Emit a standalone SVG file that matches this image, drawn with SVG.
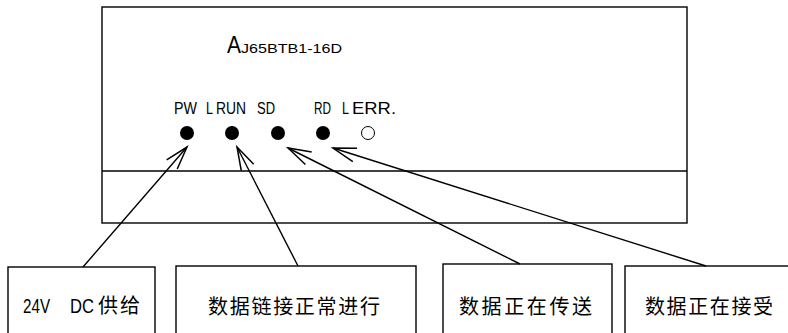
<svg xmlns="http://www.w3.org/2000/svg" width="788" height="333" viewBox="0 0 788 333">
<style>
.box{fill:none;stroke:#000;stroke-width:1.4}
.lbl{font-family:"Liberation Sans",Arial,sans-serif;font-size:16px;fill:#000}
.cjk{font-family:"Liberation Sans","Noto Sans CJK SC",sans-serif;font-size:20px;fill:#000}
.led{fill:#000}
.con{fill:none;stroke:#000;stroke-width:1.4}
</style>
<defs>
<marker id="arr" markerUnits="userSpaceOnUse" markerWidth="30" markerHeight="20" viewBox="-26 -10 30 20" refX="0" refY="0" orient="auto">
<path d="M -23 -7 L 0 0 L -23 7" fill="none" stroke="#000" stroke-width="1.5"/>
</marker>
</defs>
<rect width="788" height="333" fill="#fff"/>
<g id="module">
<rect class="box" x="102" y="7" width="585" height="216"/>
<line class="box" x1="102" y1="171" x2="687" y2="171"/>
<text class="lbl" x="227" y="53" style="font-size:24px" textLength="14" lengthAdjust="spacingAndGlyphs">A</text>
<text class="lbl" x="241" y="53" style="font-size:13px" textLength="101" lengthAdjust="spacingAndGlyphs">J65BTB1-16D</text>
<text class="lbl" x="174" y="114" textLength="23" lengthAdjust="spacingAndGlyphs">PW</text>
<text class="lbl" x="206" y="114" textLength="7" lengthAdjust="spacingAndGlyphs">L</text>
<text class="lbl" x="216" y="114" textLength="30" lengthAdjust="spacingAndGlyphs">RUN</text>
<text class="lbl" x="257" y="114" textLength="18" lengthAdjust="spacingAndGlyphs">SD</text>
<text class="lbl" x="314" y="114" textLength="17" lengthAdjust="spacingAndGlyphs">RD</text>
<text class="lbl" x="342" y="114" textLength="7" lengthAdjust="spacingAndGlyphs">L</text>
<text class="lbl" x="352" y="114" textLength="44" lengthAdjust="spacingAndGlyphs">ERR.</text>
<circle class="led" cx="187" cy="133" r="7"/>
<circle class="led" cx="232" cy="133" r="7"/>
<circle class="led" cx="278" cy="133" r="7"/>
<circle class="led" cx="323" cy="133" r="7"/>
<circle cx="368" cy="133" r="6.5" fill="#fff" stroke="#000" stroke-width="1"/>
</g>
<g id="n-pw">
<rect class="box" x="8" y="267" width="147" height="70"/>
<text class="cjk" x="23" y="313" textLength="27" lengthAdjust="spacingAndGlyphs">24V</text>
<text class="cjk" x="70" y="313" textLength="24" lengthAdjust="spacingAndGlyphs">DC</text>
<text class="cjk" x="98" y="313" textLength="42" lengthAdjust="spacing">供给</text>
</g>
<g id="n-run">
<rect class="box" x="176" y="266" width="240" height="71"/>
<text class="cjk" x="208" y="314" textLength="172" lengthAdjust="spacing">数据链接正常进行</text>
</g>
<g id="n-sd">
<rect class="box" x="443" y="264" width="169" height="73"/>
<text class="cjk" x="459" y="314" textLength="133" lengthAdjust="spacing">数据正在传送</text>
</g>
<g id="n-rd">
<rect class="box" x="625" y="266" width="170" height="71"/>
<text class="cjk" x="645" y="314" textLength="128" lengthAdjust="spacing">数据正在接受</text>
</g>
<g id="connectors">
<line class="con" x1="83" y1="267" x2="187" y2="147" marker-end="url(#arr)"/>
<line class="con" x1="298" y1="266" x2="237" y2="147" marker-end="url(#arr)"/>
<line class="con" x1="520" y1="264" x2="288" y2="148" marker-end="url(#arr)"/>
<line class="con" x1="706" y1="266" x2="333" y2="148" marker-end="url(#arr)"/>
</g>
</svg>
